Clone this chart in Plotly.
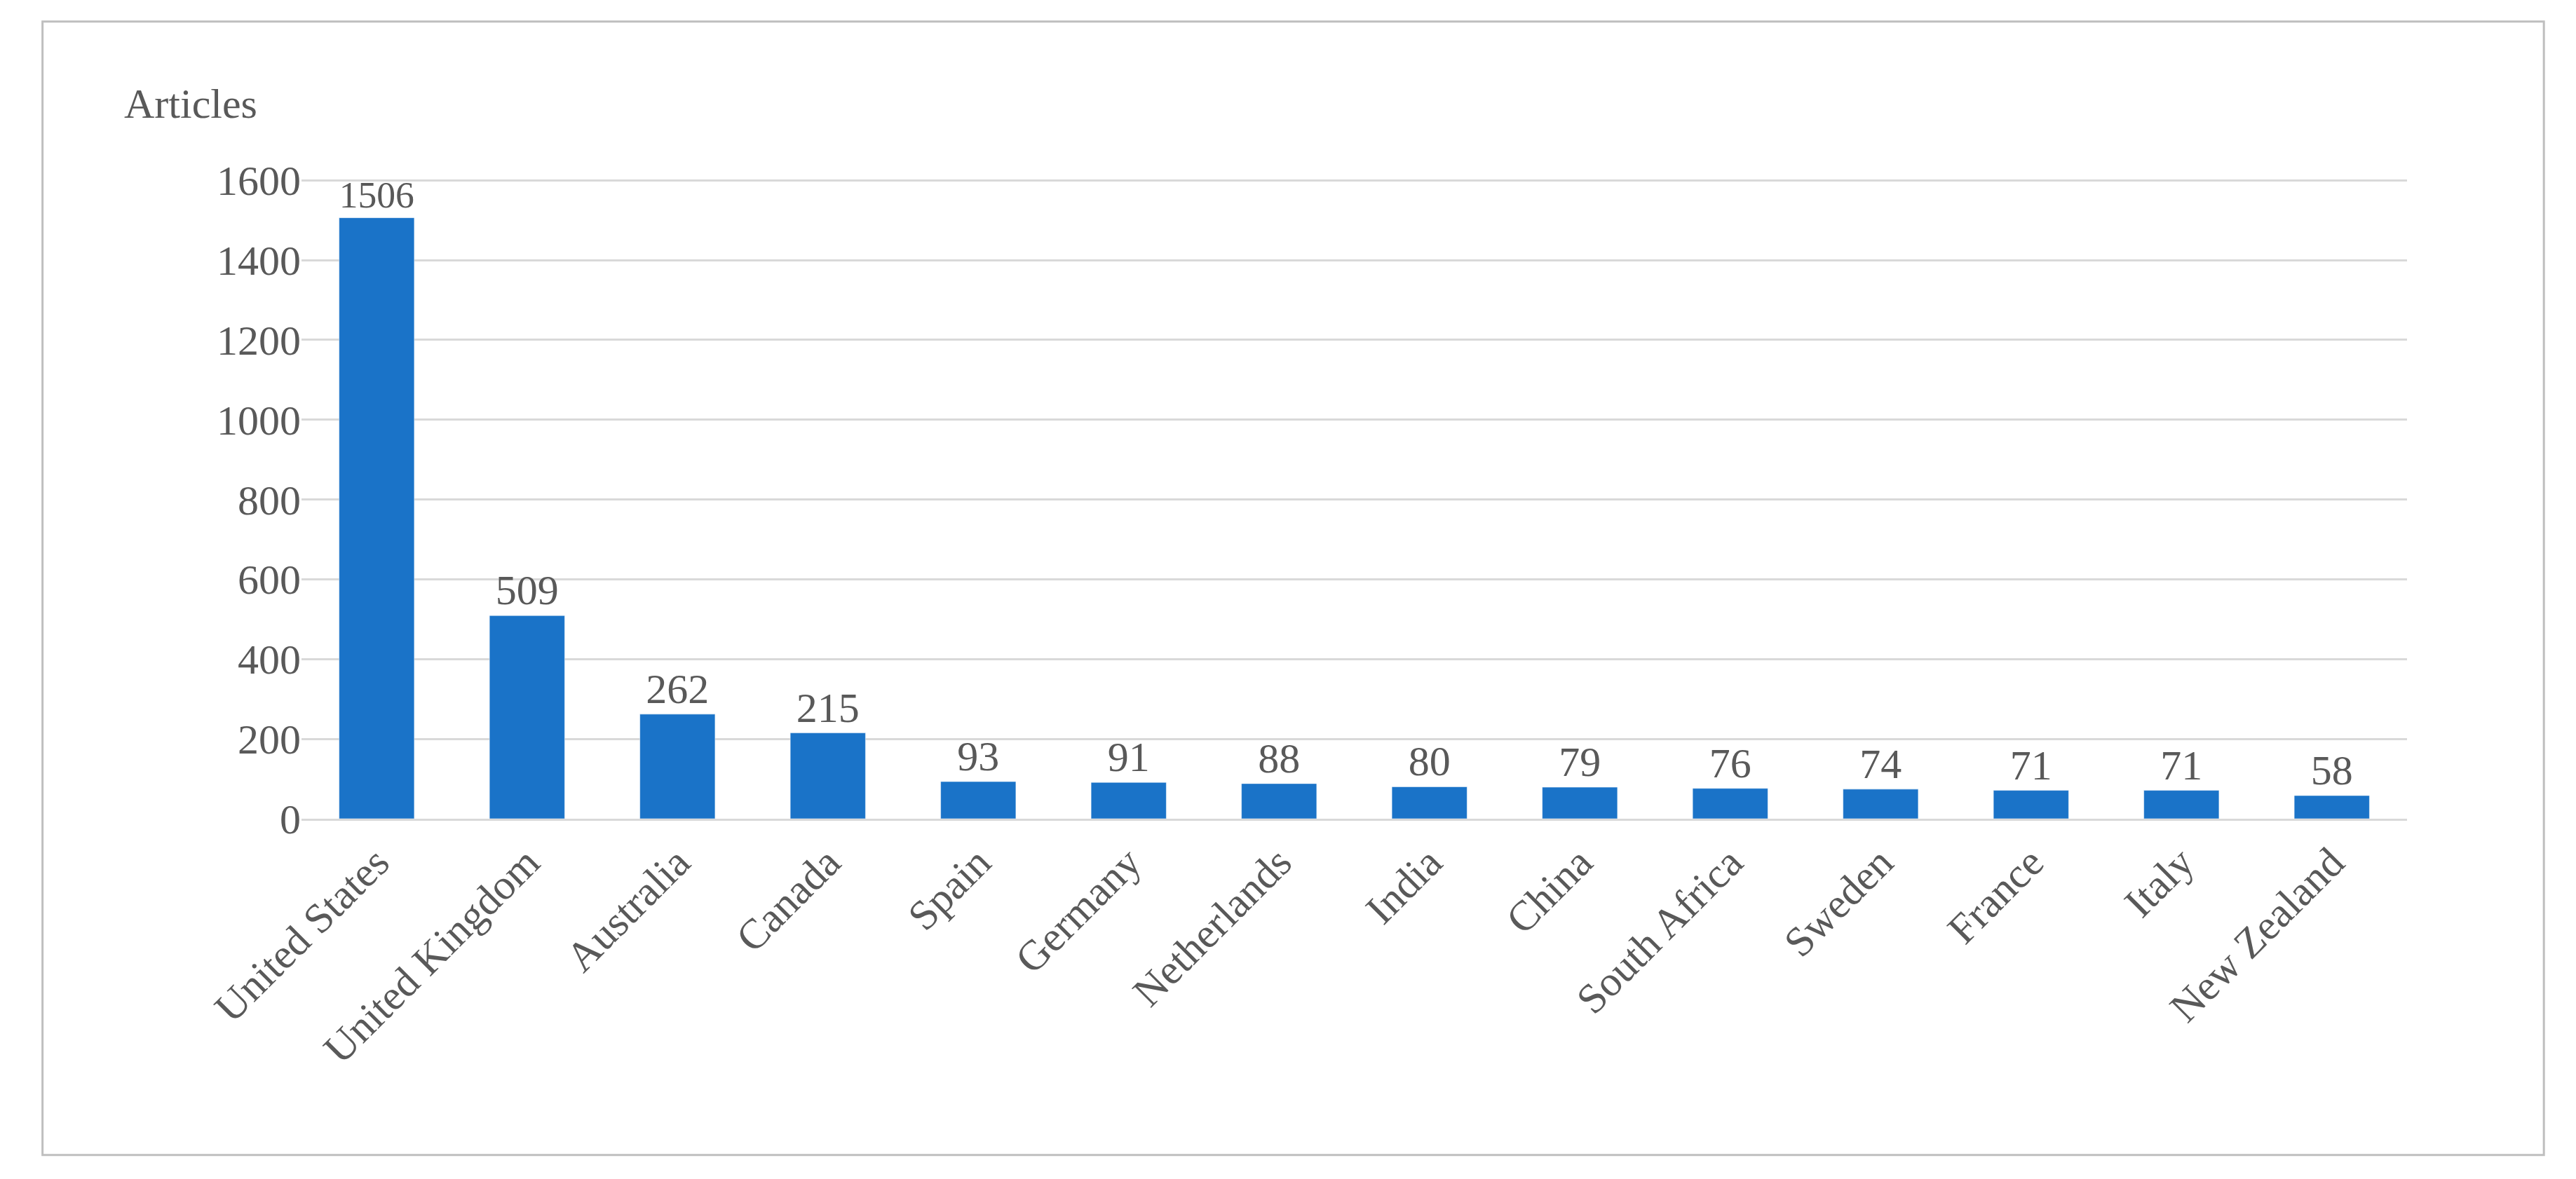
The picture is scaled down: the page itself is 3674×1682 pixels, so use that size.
import plotly.graph_objects as go

countries = ["United States", "United Kingdom", "Australia", "Canada", "Spain", "Germany",
             "Netherlands", "India", "China", "South Africa", "Sweden", "France", "Italy", "New Zealand"]
articles = [1506, 509, 262, 215, 93, 91, 88, 80, 79, 76, 74, 71, 71, 58]
labels = [f"{v}<br> " for v in articles]  # blank line lifts labels off the bars

fnt = dict(family="Liberation Serif, serif", size=60, color="#595959")

fig = go.Figure(go.Bar(
    x=countries, y=articles, marker_color="#1a73c8", width=0.5,
    text=[str(v) for v in articles], textposition="outside", textfont=fnt, cliponaxis=False,
))

fig.add_shape(type="rect", xref="paper", yref="paper", x0=-0.123, x1=1.065, y0=-0.526, y1=1.247,
              line=dict(color="#bfbfbf", width=3))
fig.add_annotation(text="Articles", xref="paper", yref="paper", x=-0.085, y=1.118,
                   xanchor="left", yanchor="middle", showarrow=False, font=fnt)

fig.update_layout(
    width=3674, height=1682, template="plotly_white",
    paper_bgcolor="white", plot_bgcolor="white",
    margin=dict(l=422, r=249, t=248, b=522),
    font=fnt, showlegend=False, bargap=0.5,
)
fig.update_xaxes(tickangle=-45, tickfont=fnt, showgrid=False,
                 showline=True, linecolor="#d9d9d9", linewidth=3)
fig.update_yaxes(range=[0, 1602], tickvals=list(range(0, 1601, 200)), tickfont=fnt,
                 gridcolor="#d9d9d9", gridwidth=3, zeroline=False, ticks="", showline=False)

fig.write_html("out.html")
